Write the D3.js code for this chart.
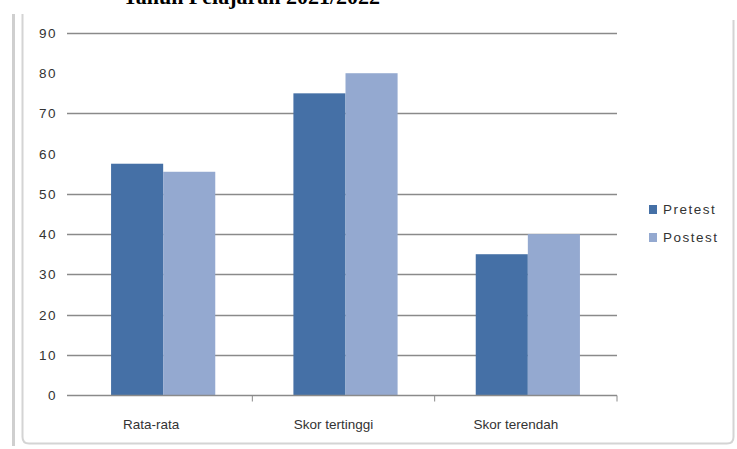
<!DOCTYPE html>
<html>
<head>
<meta charset="utf-8">
<script src="https://cdn.jsdelivr.net/npm/d3@7"></script>
<style>
  html, body { margin: 0; padding: 0; background: #fff; }
  svg { display: block; }
</style>
</head>
<body>
<svg id="chart" width="737" height="449"></svg>
<script>
const categories = ["Rata-rata", "Skor tertinggi", "Skor terendah"];
const seriesNames = ["Pretest", "Postest"];
const pretest = [57.5, 75, 35];
const postest = [55.5, 80, 40];
const yTicks = [0, 10, 20, 30, 40, 50, 60, 70, 80, 90];
const gridTicks = [10, 20, 30, 40, 50, 70, 90];
const colors = ["#4570a6", "#94a9d0"];

const svg = d3.select("#chart");

// frame of the pasted chart (top edge hidden under the title)
svg.append("line")
  .attr("x1", 13.5).attr("x2", 13.5).attr("y1", 14).attr("y2", 446)
  .attr("stroke", "#cfcfcf").attr("stroke-width", 3);
svg.append("path")
  .attr("d", "M22.5,14 V437 Q22.5,443.5 29,443.5 H727 Q733.5,443.5 733.5,437 V20")
  .attr("fill", "none").attr("stroke", "#d4d4d4").attr("stroke-width", 2);

// clipped title
svg.append("text")
  .attr("x", 123).attr("y", 4)
  .attr("font-family", "Liberation Serif, serif")
  .attr("font-weight", "bold")
  .attr("font-size", 22)
  .attr("fill", "#000")
  .text("Tahun Pelajaran 2021/2022");

const x = d3.scaleBand()
  .domain(categories)
  .range([70, 617]);

const xs = d3.scaleBand()
  .domain(seriesNames)
  .range([0, x.bandwidth()])
  .paddingOuter(0.75);

const y = d3.scaleLinear()
  .domain([0, 90])
  .range([395, 33]);

const g = svg.append("g");

// gridlines
g.selectAll("line.grid")
  .data(gridTicks)
  .join("line")
  .attr("class", "grid")
  .attr("x1", 67).attr("x2", 617)
  .attr("y1", d => Math.round(y(d)) + 0.5)
  .attr("y2", d => Math.round(y(d)) + 0.5)
  .attr("stroke", "#8a8a8a")
  .attr("stroke-width", 1.3);

// y tick labels
g.selectAll("text.ytick")
  .data(yTicks)
  .join("text")
  .attr("class", "ytick")
  .attr("x", 57)
  .attr("y", d => y(d) + 5)
  .attr("text-anchor", "end")
  .attr("font-family", "Liberation Sans, Arial, sans-serif")
  .attr("font-size", 13.5)
  .attr("letter-spacing", 1.5)
  .attr("fill", "#333")
  .text(d => d);

// bars
const rows = categories.map((c, i) => ({cat: c, values: [pretest[i], postest[i]]}));
const groups = g.selectAll("g.cat")
  .data(rows)
  .join("g")
  .attr("class", "cat")
  .attr("transform", d => `translate(${x(d.cat) + 2},0)`);

groups.selectAll("rect")
  .data(d => d.values.map((v, j) => ({name: seriesNames[j], value: v, j})))
  .join("rect")
  .attr("x", d => xs(d.name))
  .attr("width", xs.bandwidth())
  .attr("y", d => y(d.value))
  .attr("height", d => y(0) - y(d.value))
  .attr("fill", d => colors[d.j]);

// x axis
const xAxis = g.append("g")
  .attr("transform", `translate(0,${Math.round(y(0)) + 0.5})`);
xAxis.append("line")
  .attr("x1", 67).attr("x2", 617)
  .attr("stroke", "#8a8a8a").attr("stroke-width", 1.3);
xAxis.selectAll("line.tick")
  .data(categories)
  .join("line")
  .attr("class", "tick")
  .attr("x1", d => x(d) + x.bandwidth())
  .attr("x2", d => x(d) + x.bandwidth())
  .attr("y1", 0).attr("y2", 6)
  .attr("stroke", "#8a8a8a");
xAxis.selectAll("text")
  .data(categories)
  .join("text")
  .attr("x", d => x(d) + x.bandwidth() / 2 - 10)
  .attr("y", 33)
  .attr("text-anchor", "middle")
  .attr("font-family", "Liberation Sans, Arial, sans-serif")
  .attr("font-size", 13.5)
  .attr("fill", "#333")
  .text(d => d);

// legend
const legend = svg.append("g")
  .attr("transform", "translate(649,205)");
const items = legend.selectAll("g")
  .data(seriesNames)
  .join("g")
  .attr("transform", (d, i) => `translate(0,${i * 28})`);
items.append("rect")
  .attr("width", 8).attr("height", 9)
  .attr("fill", (d, i) => colors[i]);
items.append("text")
  .attr("x", 14).attr("y", 9)
  .attr("font-family", "Liberation Sans, Arial, sans-serif")
  .attr("font-size", 13.5)
  .attr("letter-spacing", 1.5)
  .attr("fill", "#333")
  .text(d => d);
</script>
</body>
</html>
